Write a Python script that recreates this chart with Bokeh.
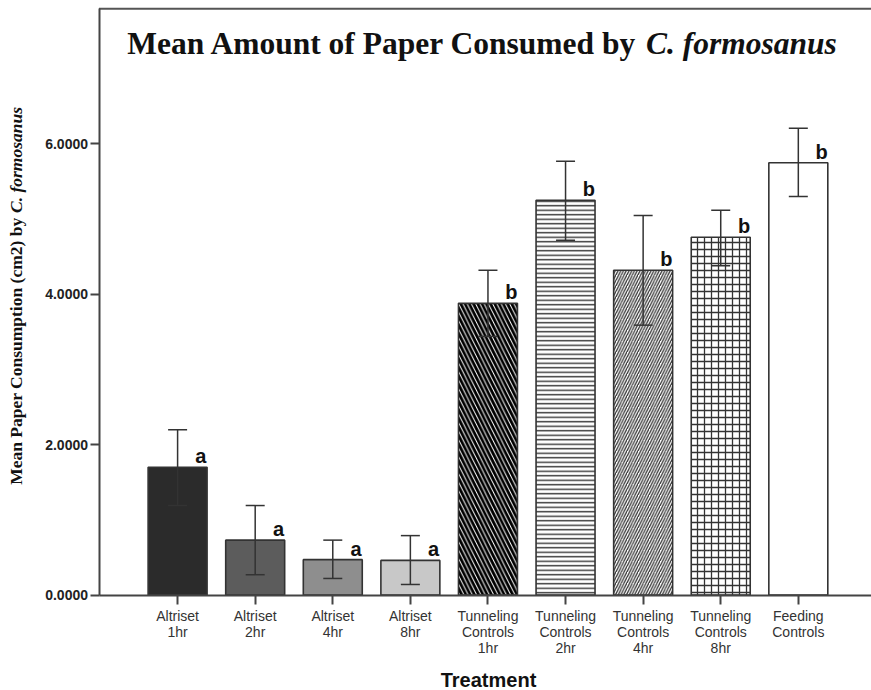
import math
from bokeh.plotting import figure
from bokeh.models import ColumnDataSource, Whisker, TeeHead, Label, Range1d, FixedTicker, PrintfTickFormatter
from bokeh.embed import file_html
from bokeh.resources import INLINE
from bokeh.core.properties import value

# ---------------- data ----------------
categories = ["Altriset\n1hr", "Altriset\n2hr", "Altriset\n4hr", "Altriset\n8hr",
              "Tunneling\nControls\n1hr", "Tunneling\nControls\n2hr",
              "Tunneling\nControls\n4hr", "Tunneling\nControls\n8hr",
              "Feeding\nControls"]
means = [1.70, 0.73, 0.47, 0.46, 3.88, 5.25, 4.32, 4.76, 5.75]
err_upper = [2.20, 1.19, 0.73, 0.79, 4.32, 5.77, 5.05, 5.12, 6.21]
err_lower = [1.19, 0.27, 0.22, 0.14, 3.44, 4.72, 3.59, 4.38, 5.30]
letters = ["a", "a", "a", "a", "b", "b", "b", "b", "b"]
y_ticks = [0, 2, 4, 6]
y_axis_top = 7.80

# ---------------- styles ----------------
fills = ["#2b2b2b", "#5c5c5c", "#8e8e8e", "#c8c8c8", "white", "white", "white", "white", "white"]
hatches = [" ", " ", " ", " ", "\\", "-", "/", "+", " "]
hatch_colors = ["black", "black", "black", "black", "black", "#333333", "#333333", "#333333", "black"]
hatch_weights = [1, 1, 1, 1, 2.8, 1.4, 1.3, 1.3, 1]
hatch_scales = [8, 8, 8, 8, 8.5, 4.5, 5.5, 7, 8]

W, H = 871, 690
PX_X, PX_Y = 77.59, 75.17          # pixels per data unit
AXIS_PX, BASE_PX = 98.5, 594.5     # picture position of y axis line and of y = 0
X_AX = -1.013                      # data x of the y axis line
X0 = X_AX - AXIS_PX / PX_X
X1 = X0 + W / PX_X
Y1 = BASE_PX / PX_Y
Y0 = Y1 - H / PX_Y


def px_x(px):  # picture pixel -> data x
    return X0 + px / PX_X


def px_y(py):  # picture pixel -> data y
    return Y1 - py / PX_Y


p = figure(width=W, height=H, output_backend="svg", toolbar_location=None,
           x_range=Range1d(X0, X1), y_range=Range1d(Y0, Y1),
           min_border_left=0, min_border_right=0, min_border_top=0, min_border_bottom=0)
p.outline_line_color = None
p.grid.visible = False
p.background_fill_color = "white"
p.border_fill_color = "white"

xs = list(range(len(categories)))
lift = 11 / PX_Y
src = ColumnDataSource(dict(x=xs, top=means, up=err_upper, lo=err_lower,
                            lx=[x + 0.3 for x in xs], ly=[m + lift for m in means], letter=letters))

for i in xs:
    p.vbar(x=[xs[i]], top=[means[i]], bottom=0, width=0.76, fill_color=fills[i],
           line_color="#333333", line_width=1.6,
           hatch_pattern=hatches[i], hatch_color=hatch_colors[i],
           hatch_weight=hatch_weights[i], hatch_scale=hatch_scales[i])

wh = Whisker(source=src, base="x", upper="up", lower="lo", line_color="#333333", line_width=1.5,
             upper_head=TeeHead(size=19, line_color="#333333", line_width=1.5),
             lower_head=TeeHead(size=19, line_color="#333333", line_width=1.5),
             level="overlay")
p.add_layout(wh)

p.text(x="lx", y="ly", text="letter", source=src, text_font=value("Liberation Sans"),
       text_font_style="bold", text_font_size="20px", text_color="#111111",
       text_align="center", text_baseline="middle")

# top frame line
p.segment(x0=[X_AX], y0=[y_axis_top], x1=[X1], y1=[y_axis_top], line_color="#555555", line_width=2)

# axes (fixed inside the frame so that the labels drawn around them are not clipped)
p.xaxis.fixed_location = 0
p.xaxis.bounds = (X_AX, X1)
p.xaxis.ticker = FixedTicker(ticks=xs)
p.xaxis.major_label_overrides = {i: c for i, c in enumerate(categories)}
p.xaxis.minor_tick_line_color = None
p.xaxis.major_tick_in = 0
p.xaxis.major_tick_out = 9
p.xaxis.major_label_standoff = 4
p.xaxis.major_label_text_font = "Liberation Sans"
p.xaxis.major_label_text_font_size = "14px"
p.xaxis.major_label_text_color = "#333333"
p.xaxis.major_label_text_line_height = 1.0

p.yaxis.fixed_location = X_AX
p.yaxis.bounds = (0, y_axis_top)
p.yaxis.ticker = FixedTicker(ticks=y_ticks)
p.yaxis.formatter = PrintfTickFormatter(format="%.4f")
p.yaxis.minor_tick_line_color = None
p.yaxis.major_tick_in = 0
p.yaxis.major_tick_out = 9
p.yaxis.major_label_standoff = 2
p.yaxis.major_label_text_font = "Liberation Sans"
p.yaxis.major_label_text_font_style = "bold"
p.yaxis.major_label_text_font_size = "14px"
p.yaxis.major_label_text_color = "#222222"

for ax in (p.xaxis, p.yaxis):
    ax.axis_line_color = "#444444"
    ax.axis_line_width = 2
    ax.major_tick_line_color = "#444444"
    ax.major_tick_line_width = 2

# x axis title
p.add_layout(Label(x=px_x(488), y=px_y(679.5), text="Treatment",
                   text_font="Liberation Sans", text_font_style="bold", text_font_size="20px",
                   text_color="#111111", text_align="center", text_baseline="middle"))

# title (two parts: roman + italic)
p.add_layout(Label(x=px_x(637), y=px_y(42.5), text="Mean Amount of Paper Consumed by",
                   text_font="Liberation Serif", text_font_style="bold", text_font_size="31.5px",
                   text_color="#111111", text_align="right", text_baseline="middle"))
p.add_layout(Label(x=px_x(645.5), y=px_y(42.5), text="C. formosanus",
                   text_font="Liberation Serif", text_font_style="bold italic", text_font_size="31.5px",
                   text_color="#111111", text_align="left", text_baseline="middle"))

# y axis label (two parts, rotated)
p.add_layout(Label(x=px_x(15), y=px_y(217), text="Mean Paper Consumption (cm2) by", angle=math.pi / 2,
                   text_font="Liberation Serif", text_font_style="bold", text_font_size="17.5px",
                   text_color="#111111", text_align="right", text_baseline="middle"))
p.add_layout(Label(x=px_x(15), y=px_y(212.5), text="C. formosanus", angle=math.pi / 2,
                   text_font="Liberation Serif", text_font_style="bold italic", text_font_size="17.5px",
                   text_color="#111111", text_align="left", text_baseline="middle"))

open("out.html", "w").write(file_html(p, INLINE))
